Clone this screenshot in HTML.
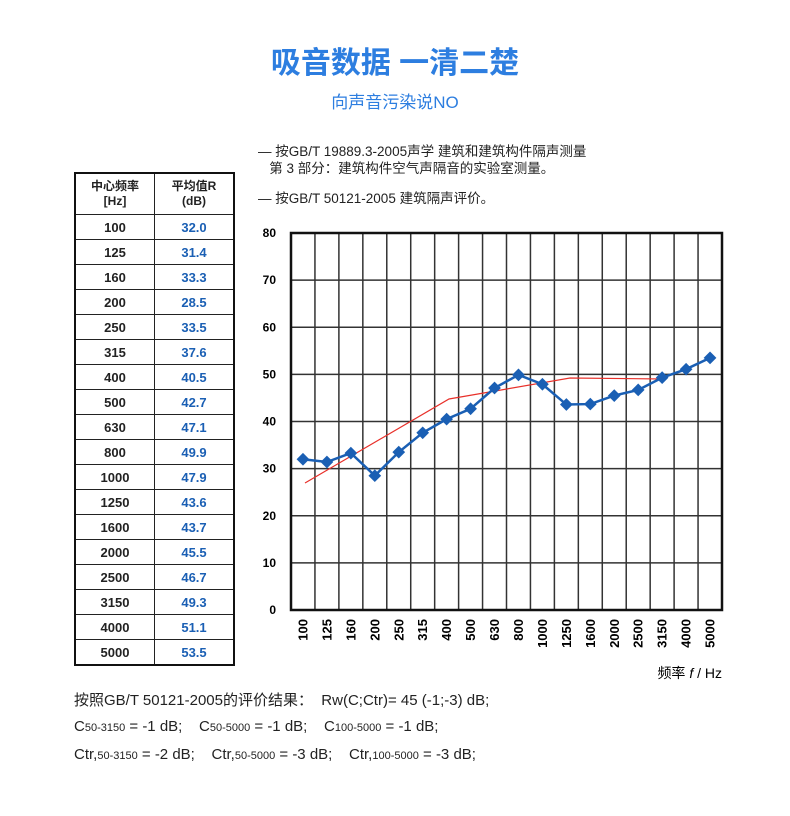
<!DOCTYPE html>
<html><head><meta charset="utf-8"><style>
body{margin:0;background:#fff;width:790px;height:816px;position:relative;font-family:"Liberation Sans","Noto Sans CJK SC",sans-serif;color:#222;overflow:hidden}
.a{position:absolute;white-space:nowrap}
table{position:absolute;left:74px;top:172px;border-collapse:collapse;border:2px solid #111}
td{border:1px solid #222;width:78px;height:24px;text-align:center;font-size:13px;font-weight:bold;padding:0}
td.v{color:#1a5fb4}
th{border:1px solid #222;height:38px;font-size:12px;line-height:15px;font-weight:bold}
.s{font-size:11px}
</style></head><body>
<div class="a" style="left:0;width:790px;text-align:center;top:38px;font-size:30px;font-weight:bold;color:#2d7ee0">吸音数据 一清二楚</div>
<div class="a" style="left:0;width:790px;text-align:center;top:88px;font-size:17px;color:#2d7ee0">向声音污染说NO</div>
<div class="a" style="left:258px;top:143px;font-size:13.5px;line-height:17px">— 按GB/T 19889.3-2005声学 建筑和建筑构件隔声测量<br>&nbsp;&nbsp;&nbsp;第 3 部分：建筑构件空气声隔音的实验室测量。</div>
<div class="a" style="left:258px;top:187px;font-size:13.5px">— 按GB/T 50121-2005 建筑隔声评价。</div>
<table>
<tr><th>中心频率<br>[Hz]</th><th>平均值R<br>(dB)</th></tr>
<tr><td>100</td><td class="v">32.0</td></tr>
<tr><td>125</td><td class="v">31.4</td></tr>
<tr><td>160</td><td class="v">33.3</td></tr>
<tr><td>200</td><td class="v">28.5</td></tr>
<tr><td>250</td><td class="v">33.5</td></tr>
<tr><td>315</td><td class="v">37.6</td></tr>
<tr><td>400</td><td class="v">40.5</td></tr>
<tr><td>500</td><td class="v">42.7</td></tr>
<tr><td>630</td><td class="v">47.1</td></tr>
<tr><td>800</td><td class="v">49.9</td></tr>
<tr><td>1000</td><td class="v">47.9</td></tr>
<tr><td>1250</td><td class="v">43.6</td></tr>
<tr><td>1600</td><td class="v">43.7</td></tr>
<tr><td>2000</td><td class="v">45.5</td></tr>
<tr><td>2500</td><td class="v">46.7</td></tr>
<tr><td>3150</td><td class="v">49.3</td></tr>
<tr><td>4000</td><td class="v">51.1</td></tr>
<tr><td>5000</td><td class="v">53.5</td></tr>
</table>
<svg class="a" style="left:0;top:0" width="790" height="816" font-family="Liberation Sans, Noto Sans CJK SC, sans-serif">
<g id="g" stroke="#333" stroke-width="1.5"></g>
<rect x="291" y="233" width="431" height="377" fill="none" stroke="#111" stroke-width="2.5"/>
<g id="yl" font-size="12" font-weight="bold" text-anchor="end"></g>
<g id="xl" font-size="13" font-weight="bold"></g>
<polyline points="305,483 449,399 570,378 664,379" fill="none" stroke="#e8302a" stroke-width="1.2"/>
<polyline id="bl" fill="none" stroke="#1a5fb4" stroke-width="2.5"/>
<g id="mk" fill="#1a5fb4"></g>
<text x="722" y="678" font-size="14" text-anchor="end">频率 <tspan font-style="italic">f</tspan> / Hz</text>
</svg>
<div class="a" style="left:74px;top:689px;font-size:15px">按照GB/T 50121-2005的评价结果：&nbsp;&nbsp;Rw(C;Ctr)= 45 (-1;-3) dB;</div>
<div class="a" style="left:74px;top:718px;font-size:15px">C<span class="s">50-3150</span> = -1 dB;&nbsp;&nbsp;&nbsp;&nbsp;C<span class="s">50-5000</span> = -1 dB;&nbsp;&nbsp;&nbsp;&nbsp;C<span class="s">100-5000</span> = -1 dB;</div>
<div class="a" style="left:74px;top:746px;font-size:15px">Ctr,<span class="s">50-3150</span> = -2 dB;&nbsp;&nbsp;&nbsp;&nbsp;Ctr,<span class="s">50-5000</span> = -3 dB;&nbsp;&nbsp;&nbsp;&nbsp;Ctr,<span class="s">100-5000</span> = -3 dB;</div>
<script>
var ns="http://www.w3.org/2000/svg";
function el(p,t,a,tx){var e=document.createElementNS(ns,t);for(var k in a)e.setAttribute(k,a[k]);if(tx)e.textContent=tx;document.getElementById(p).appendChild(e);return e;}
var f=["100","125","160","200","250","315","400","500","630","800","1000","1250","1600","2000","2500","3150","4000","5000"];
var v=[32.0,31.4,33.3,28.5,33.5,37.6,40.5,42.7,47.1,49.9,47.9,43.6,43.7,45.5,46.7,49.3,51.1,53.5];
var cw=431/18;
for(var i=1;i<18;i++){var x=291+i*cw;el("g","line",{x1:x,x2:x,y1:233,y2:610});}
for(var j=0;j<=8;j++){var y=610-j*377/8;if(j>0&&j<8)el("g","line",{x1:291,x2:722,y1:y,y2:y});el("yl","text",{x:276,y:y+4},String(j*10));}
var pts=[];
for(var i=0;i<18;i++){var x=291+(i+.5)*cw,y=610-v[i]*377/80;pts.push(x+","+y);
el("mk","rect",{x:x-4.5,y:y-4.5,width:9,height:9,transform:"rotate(45 "+x+" "+y+")"});
el("xl","text",{x:0,y:0,transform:"translate("+(x+4.5)+",619) rotate(-90)","text-anchor":"end"},f[i]);}
document.getElementById("bl").setAttribute("points",pts.join(" "));
</script>
</body></html>
